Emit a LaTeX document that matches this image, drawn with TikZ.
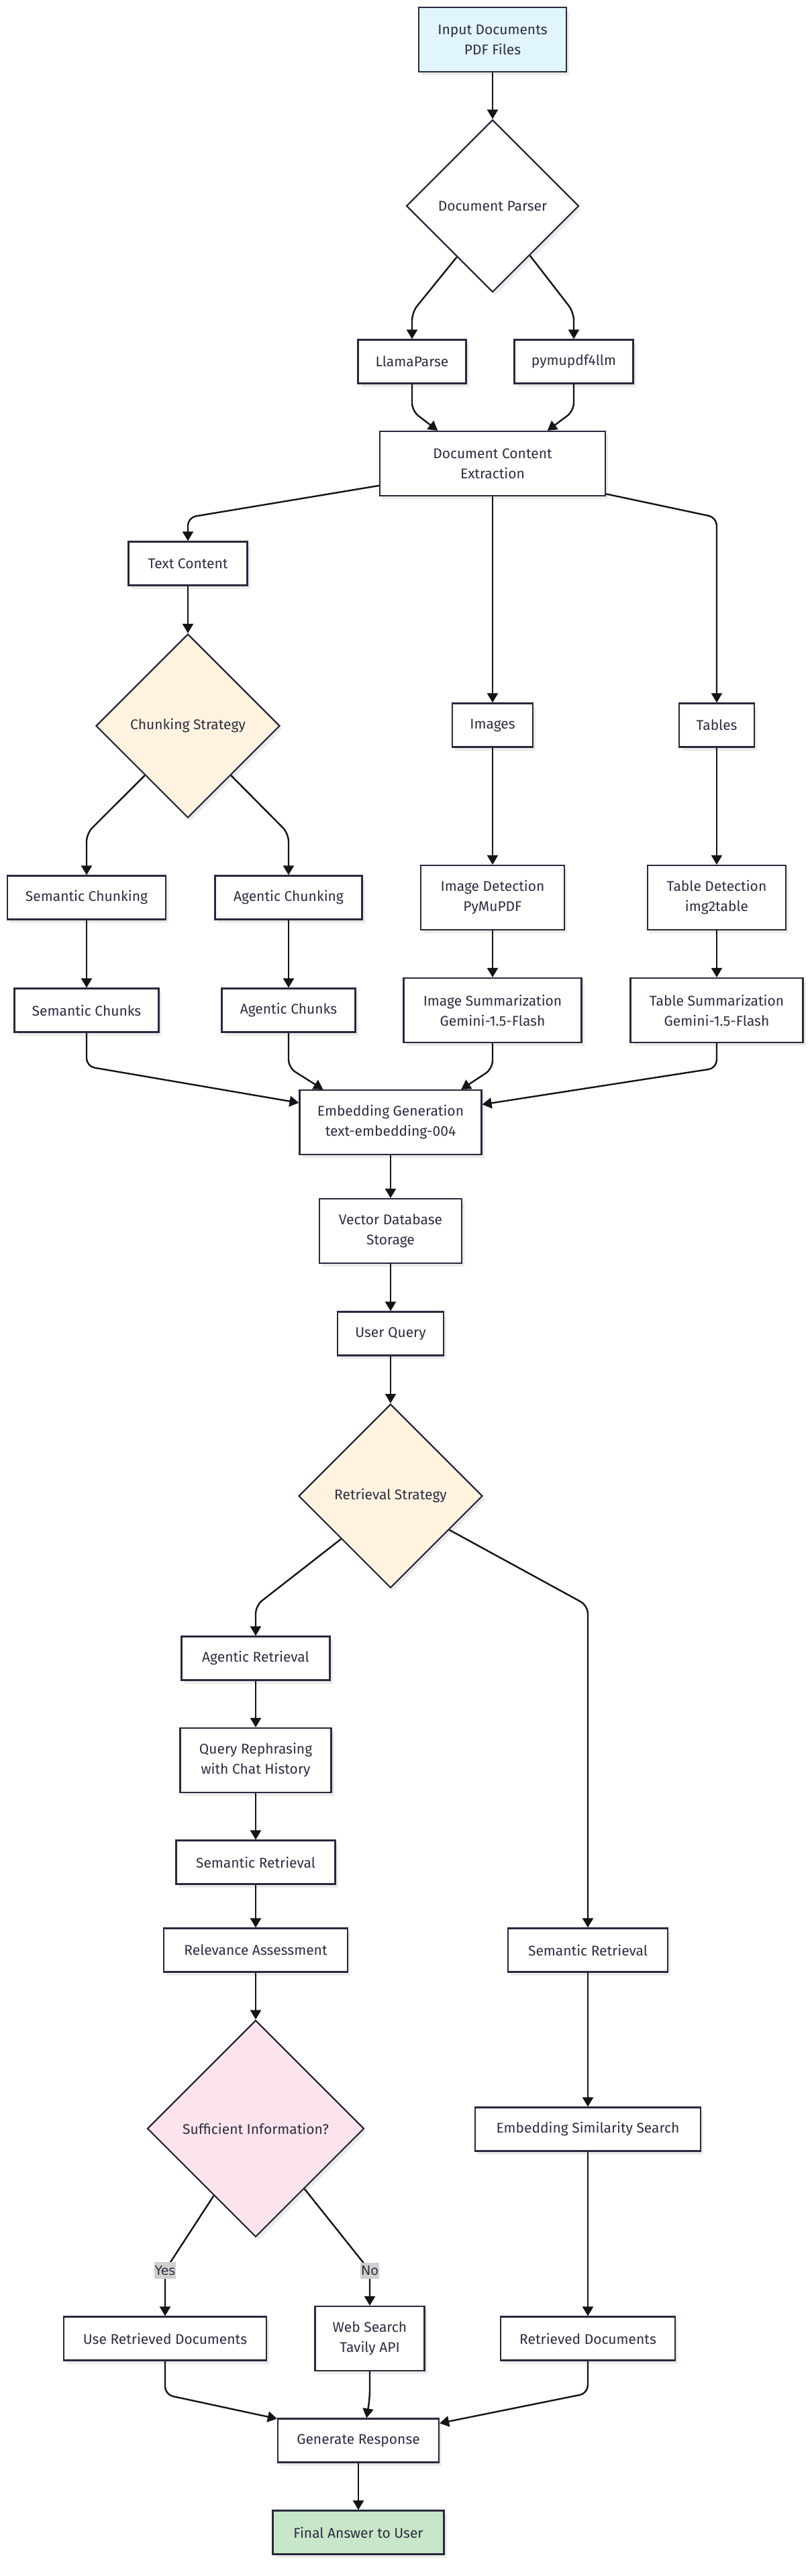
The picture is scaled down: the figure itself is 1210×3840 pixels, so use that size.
\documentclass[tikz,border=0pt]{standalone}
\usepackage{fontspec}
\setmainfont{Fira Sans}
\newfontfamily\lblfont{DejaVu Sans}
\usetikzlibrary{shapes.geometric, arrows.meta, calc, shadows}
\definecolor{inputblue}{RGB}{225,245,254}
\definecolor{stratorange}{RGB}{255,243,224}
\definecolor{decidepink}{RGB}{252,228,236}
\definecolor{answergreen}{RGB}{200,230,201}
\definecolor{boxline}{RGB}{40,40,62}
\definecolor{boxtext}{RGB}{45,45,65}
\definecolor{labelgray}{RGB}{208,208,208}

\begin{document}
\begin{tikzpicture}[
  x=0.5pt, y=-0.5pt,
  stepbox/.style={draw=boxline, line width=1.1pt, fill=white, text=boxtext, align=center, inner sep=2pt, minimum height=32.5pt, font=\fontsize{10.5}{15}\selectfont, drop shadow={shadow xshift=2pt, shadow yshift=-2.5pt, fill=black, opacity=0.08}},
  twoline/.style={stepbox, minimum height=48pt},
  choice/.style={stepbox, diamond, aspect=1},
  flow/.style={-{Triangle[length=7pt, width=8pt]}, line width=1.2pt, draw=black!92, rounded corners=6pt},
  lbl/.style={sharp corners, fill=labelgray, text=boxtext, font=\lblfont\fontsize{9.5}{11}\selectfont, inner xsep=0.5pt, inner ysep=2.5pt}
]
  \fill[white] (0,0) rectangle (1210,3840);
  \useasboundingbox (0,0) rectangle (1210,3840);

  \node[twoline, fill=inputblue, minimum width=110pt] (input) at (734,59) {Input Documents\\PDF Files};
  \node[choice, minimum size=128.5pt] (parser) at (734,307) {Document Parser};
  \node[stepbox, minimum width=80.5pt] (llama) at (614,539) {LlamaParse};
  \node[stepbox, minimum width=88.5pt] (pymu) at (855,539) {pymupdf4llm};
  \node[twoline, minimum width=168pt] (extract) at (734,691) {Document Content\\Extraction};
  \node[stepbox, minimum width=88.5pt] (textc) at (280,840) {Text Content};
  \node[choice, fill=stratorange, minimum size=137pt] (chunk) at (280,1082) {Chunking Strategy};
  \node[stepbox, minimum width=60pt] (images) at (734,1081) {Images};
  \node[stepbox, minimum width=56pt] (tables) at (1068,1081) {Tables};
  \node[stepbox, minimum width=118pt] (semchunking) at (129,1338) {Semantic Chunking};
  \node[stepbox, minimum width=109.5pt] (agchunking) at (430,1338) {Agentic Chunking};
  \node[twoline, minimum width=107pt] (imgdetect) at (734,1338) {Image Detection\\PyMuPDF};
  \node[twoline, minimum width=103pt] (tabdetect) at (1068,1338) {Table Detection\\img2table};
  \node[stepbox, minimum width=107.5pt] (semchunks) at (129,1506) {Semantic Chunks};
  \node[stepbox, minimum width=99.5pt] (agchunks) at (430,1506) {Agentic Chunks};
  \node[twoline, minimum width=132.5pt] (imgsum) at (734,1506) {Image Summarization\\Gemini-1.5-Flash};
  \node[twoline, minimum width=128.5pt] (tabsum) at (1068,1506) {Table Summarization\\Gemini-1.5-Flash};
  \node[twoline, minimum width=135.5pt] (embed) at (582,1673) {Embedding Generation\\text-embedding-004};
  \node[twoline, minimum width=106pt] (vectordb) at (582,1835) {Vector Database\\Storage};
  \node[stepbox, minimum width=79pt] (query) at (582,1988) {User Query};
  \node[choice, fill=stratorange, minimum size=137pt] (retrieve) at (582,2230) {Retrieval Strategy};
  \node[stepbox, minimum width=110.5pt] (agretr) at (381,2472) {Agentic Retrieval};
  \node[twoline, minimum width=112.5pt] (rephrase) at (381,2624) {Query Rephrasing\\with Chat History};
  \node[stepbox, minimum width=118.5pt] (semretrA) at (381,2776) {Semantic Retrieval};
  \node[stepbox, minimum width=137pt] (relevance) at (381,2907) {Relevance Assessment};
  \node[stepbox, minimum width=119pt] (semretrB) at (876,2907) {Semantic Retrieval};
  \node[choice, fill=decidepink, minimum size=161.5pt] (enough) at (381,3173) {Sufficient Information?};
  \node[stepbox, minimum width=168pt] (simsearch) at (876,3174) {Embedding Similarity Search};
  \node[stepbox, minimum width=151pt] (usedocs) at (246,3486) {Use Retrieved Documents};
  \node[twoline, minimum width=81.5pt] (websearch) at (551,3486) {Web Search\\Tavily API};
  \node[stepbox, minimum width=130pt] (retdocs) at (876,3486) {Retrieved Documents};
  \node[stepbox, minimum width=120pt] (generate) at (534,3638) {Generate Response};
  \node[stepbox, fill=answergreen, minimum width=127.5pt] (answer) at (534,3775) {Final Answer to User};

  \draw[flow] (input.south) -- (parser.north);
  \draw[flow] (parser.235) -- ($(llama.north)+(0,-40)$) -- (llama.north);
  \draw[flow] (parser.-53) -- ($(pymu.north)+(0,-40)$) -- (pymu.north);
  \draw[flow] (llama.south) -- ++(0,40) -- (extract.149);
  \draw[flow] (pymu.south) -- ++(0,40) -- (extract.31);
  \draw[flow] (extract.191) -- ($(textc.north)+(0,-35)$) -- (textc.north);
  \draw[flow] (extract.south) -- (images.north);
  \draw[flow] (extract.-15) -- ($(tables.north)+(0,-276)$) -- (tables.north);
  \draw[flow] (textc.south) -- (chunk.north);
  \draw[flow] (chunk.229) -- ($(semchunking.north)+(0,-62)$) -- (semchunking.north);
  \draw[flow] (chunk.-49) -- ($(agchunking.north)+(0,-62)$) -- (agchunking.north);
  \draw[flow] (images.south) -- (imgdetect.north);
  \draw[flow] (tables.south) -- (tabdetect.north);
  \draw[flow] (semchunking.south) -- (semchunks.north);
  \draw[flow] (agchunking.south) -- (agchunks.north);
  \draw[flow] (imgdetect.south) -- (imgsum.north);
  \draw[flow] (tabdetect.south) -- (tabsum.north);
  \draw[flow] (semchunks.south) -- ++(0,50) -- (embed.168);
  \draw[flow] (agchunks.south) -- ++(0,52) -- (embed.154);
  \draw[flow] (imgsum.south) -- ++(0,38) -- (embed.25);
  \draw[flow] (tabsum.south) -- ++(0,37) -- (embed.11);
  \draw[flow] (embed.south) -- (vectordb.north);
  \draw[flow] (vectordb.south) -- (query.north);
  \draw[flow] (query.south) -- (retrieve.north);
  \draw[flow] (retrieve.221) -- ($(agretr.north)+(0,-45)$) -- (agretr.north);
  \draw[flow] (retrieve.-30) -- ($(semretrB.north)+(0,-480)$) -- (semretrB.north);
  \draw[flow] (agretr.south) -- (rephrase.north);
  \draw[flow] (rephrase.south) -- (semretrA.north);
  \draw[flow] (semretrA.south) -- (relevance.north);
  \draw[flow] (relevance.south) -- (enough.north);
  \draw[flow] (semretrB.south) -- (simsearch.north);
  \draw[flow] (simsearch.south) -- (retdocs.north);
  \draw[flow] (enough.238) -- ($(usedocs.north)+(0,-68)$) node[lbl] {Yes} -- (usedocs.north);
  \draw[flow] (enough.-51) -- ($(websearch.north)+(0,-52)$) node[lbl] {No} -- (websearch.north);
  \draw[flow] (usedocs.south) -- ++(0,50) -- (generate.165);
  \draw[flow] (websearch.south) -- ++(0,40) -- (generate.70);
  \draw[flow] (retdocs.south) -- ++(0,48) -- (generate.12);
  \draw[flow] (generate.south) -- (answer.north);
\end{tikzpicture}
\end{document}
